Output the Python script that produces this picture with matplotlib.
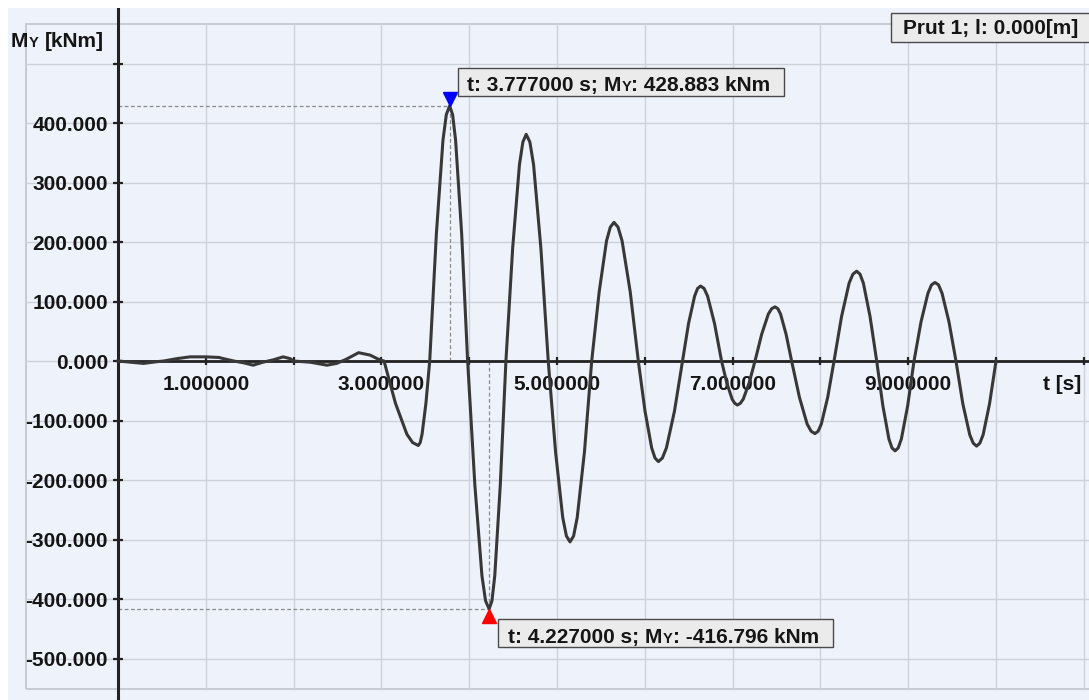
"""
Bending moment M_Y time history (Prut 1, l = 0.000 m) with max / min markers.
"""

import matplotlib
matplotlib.use('Agg')
import matplotlib.pyplot as plt
import matplotlib.transforms as mtransforms
from matplotlib.patches import Rectangle

# ── Data ───────────────────────────────────────────────────────────────────
T_S = [0.00, 0.15, 0.29, 0.45, 0.52, 0.67, 0.82, 1.00, 1.15, 1.20, 1.32, 1.43,
       1.54, 1.65, 1.77, 1.88, 1.96, 2.00, 2.19, 2.38, 2.49, 2.60, 2.74, 2.87, 2.98,
       3.03,
       3.16, 3.29, 3.355, 3.42, 3.442, 3.463, 3.507, 3.55,
       3.626, 3.701, 3.739, 3.777, 3.811, 3.845, 3.914, 3.982,
       4.064, 4.145, 4.186, 4.227, 4.259, 4.291, 4.354, 4.418,
       4.495, 4.572, 4.611, 4.649, 4.691, 4.733, 4.816, 4.90,
       4.983, 5.065, 5.107, 5.148, 5.189, 5.230, 5.313, 5.395,
       5.480, 5.564, 5.607, 5.649, 5.695, 5.741, 5.834, 5.926,
       6.002, 6.078, 6.116, 6.154, 6.200, 6.246, 6.338, 6.43,
       6.498, 6.567, 6.601, 6.635, 6.675, 6.715, 6.794, 6.874,
       6.934, 6.994, 7.024, 7.054, 7.088, 7.121, 7.188, 7.255,
       7.331, 7.407, 7.445, 7.483, 7.515, 7.546, 7.609, 7.672,
       7.761, 7.849, 7.894, 7.938, 7.974, 8.010, 8.083, 8.155,
       8.241, 8.327, 8.370, 8.413, 8.451, 8.489, 8.565, 8.641,
       8.711, 8.780, 8.815, 8.85, 8.886, 8.922, 8.994, 9.066,
       9.146, 9.225, 9.265, 9.305, 9.345, 9.385, 9.464, 9.544,
       9.622, 9.701, 9.740, 9.779, 9.816, 9.853, 9.926, 10.00]

M_KNM = [0, -2, -4, -1, 0, 4, 7, 7, 6, 4, 0, -3,
         -7, -2, 2, 7, 4, 0, -2, -7, -4, 3, 14, 10, 2,
         0,
         -71, -123, -137, -142, -137, -123, -71, 0,
         214, 371, 414, 428.883, 414, 371, 214, 0,
         -208, -361, -403, -416.796, -403, -361, -208, 0,
         190, 330, 368, 381, 368, 330, 190, 0,
         -152, -263, -294, -304, -294, -263, -152, 0,
         116, 202, 225, 233, 225, 202, 116, 0,
         -84, -146, -163, -169, -163, -146, -84, 0,
         63, 109, 122, 126, 122, 109, 63, 0,
         -37, -64, -71, -74, -71, -64, -37, 0,
         45, 79, 88, 91, 88, 79, 45, 0,
         -61, -106, -118, -122, -118, -106, -61, 0,
         75, 131, 146, 151, 146, 131, 75, 0,
         -75, -131, -146, -151, -146, -131, -75, 0,
         66, 114, 128, 132, 128, 114, 66, 0,
         -72, -124, -138, -143, -138, -124, -72, 0]

PEAK_T, PEAK_M = 3.777, 428.883
LOW_T, LOW_M = 4.227, -416.796

Y_TICKS = [-500, -400, -300, -200, -100, 0, 100, 200, 300, 400, 500]
Y_LABELED = [-500, -400, -300, -200, -100, 0, 100, 200, 300, 400]
X_TICKS = [1, 2, 3, 4, 5, 6, 7, 8, 9, 10, 11]
X_LABELED = [1, 3, 5, 7, 9]
MEMBER_INFO = 'Prut 1; l: 0.000[m]'

# ── Styling ────────────────────────────────────────────────────────────────
W, H = 1089, 700
plt.rcParams.update({
    'font.family': ['Liberation Sans', 'DejaVu Sans'],
    'font.weight': 'bold',
})
INK = '#151515'
FS = 15

fig = plt.figure(figsize=(W / 100, H / 100), dpi=100, facecolor='white')
ax = fig.add_axes([8 / W, 0, (W - 8) / W, (H - 8) / H])
ax.set_facecolor('#eef2fa')
ax.set_xlim(-1.253, 11.059)
ax.set_ylim(-569.7, 593.3)
for s in ax.spines.values():
    s.set_visible(False)
ax.set_xticks([])
ax.set_yticks([])

# grid frame + grid lines
GX0, GY0, GY1 = -1.048, -551, 566
ax.add_patch(Rectangle((GX0, GY0), 14, GY1 - GY0, fill=False, ec='#c3c8d0', lw=1.3, zorder=1))
for t in X_TICKS:
    ax.plot([t, t], [GY0, GY1], color='#cdd2da', lw=1, zorder=1)
for v in Y_TICKS:
    ax.plot([GX0, 13], [v, v], color='#cdd2da', lw=1, zorder=1)

# max / min guide lines
dash = dict(color='#8a8a8a', lw=0.9, ls=(0, (3, 2)), zorder=3)
ax.plot([0, PEAK_T], [PEAK_M, PEAK_M], **dash)
ax.plot([PEAK_T, PEAK_T], [0, PEAK_M], **dash)
ax.plot([0, LOW_T], [LOW_M, LOW_M], **dash)
ax.plot([LOW_T, LOW_T], [0, LOW_M], **dash)

# axes lines through the origin
ax.axvline(0, color='#222222', lw=2.2, zorder=4)
ax.plot([0, 13], [0, 0], color='#222222', lw=2, zorder=4)
ax.plot([0] * len(Y_TICKS), Y_TICKS, ls='none', marker='_', ms=7, mew=1.6, color='#222222', zorder=4)
ax.plot(X_TICKS, [0] * len(X_TICKS), ls='none', marker='|', ms=6, mew=1.6, color='#222222', zorder=4)

# tick labels
ylab_tr = mtransforms.offset_copy(ax.transData, fig, x=-10, y=-7.5, units='dots')
for v in Y_LABELED:
    ax.text(0, v, f'{v:.3f}', transform=ylab_tr, ha='right', va='baseline', fontsize=FS, color=INK)
xlab_tr = mtransforms.offset_copy(ax.transData, fig, y=-29, units='dots')
for t in X_LABELED:
    ax.text(t, 0, f'{t:.6f}', transform=xlab_tr, ha='center', va='baseline', fontsize=FS, color=INK)

# curve
ax.plot(T_S, M_KNM, color='#383838', lw=2.2, zorder=5, solid_joinstyle='round')

# max / min markers
up_tr = mtransforms.offset_copy(ax.transData, fig, y=7, units='dots')
dn_tr = mtransforms.offset_copy(ax.transData, fig, y=-7, units='dots')
ax.plot([PEAK_T], [PEAK_M], marker='v', ms=10, color='#0000ff', mec='#0000ff', transform=up_tr, zorder=6, clip_on=False)
ax.plot([LOW_T], [LOW_M], marker='^', ms=10, color='#ff0000', mec='#ff0000', transform=dn_tr, zorder=6, clip_on=False)


# ── Helper: text made of pieces (small "Y"), optional box; pixels from top-left
def label_px(x, base, parts, box=None):
    r = fig.canvas.get_renderer()
    cur = x
    for s, fs, gap in parts:
        txt = fig.text(cur / W, 1 - base / H, s, fontsize=fs, color=INK,
                       ha='left', va='baseline', zorder=5)
        cur += txt.get_window_extent(r).width + gap
    if box:
        pl, pt, pr, pb = box
        fig.add_artist(Rectangle((x - pl, H - base - pb), cur - x + pl + pr, pt + pb,
                                 transform=mtransforms.IdentityTransform(),
                                 fc='#ebebeb', ec='#4a4a4a', lw=1, zorder=4))


SP = 5.8
label_px(11, 47, [('M', FS, 0.5), ('Y', 10.5, SP), ('[kNm]', FS, 0)])
label_px(467, 91, [(f't: {PEAK_T:.6f} s;', FS, SP), ('M', FS, 0.5), ('Y', 10.5, 0),
                   (f': {PEAK_M:.3f} kNm', FS, 0)], box=(9, 23, 14, 5))
label_px(508, 643, [(f't: {LOW_T:.6f} s;', FS, SP), ('M', FS, 0.5), ('Y', 10.5, 0),
                    (f': {LOW_M:.3f} kNm', FS, 0)], box=(10, 24, 14, 4))
label_px(903, 33.5, [(MEMBER_INFO, FS, 0)], box=(12, 20.5, 12, 8.5))
fig.text(1081 / W, 1 - 390 / H, 't [s]', ha='right', va='baseline', fontsize=FS, color=INK)

fig.savefig('out.png', dpi=100, facecolor='white')
